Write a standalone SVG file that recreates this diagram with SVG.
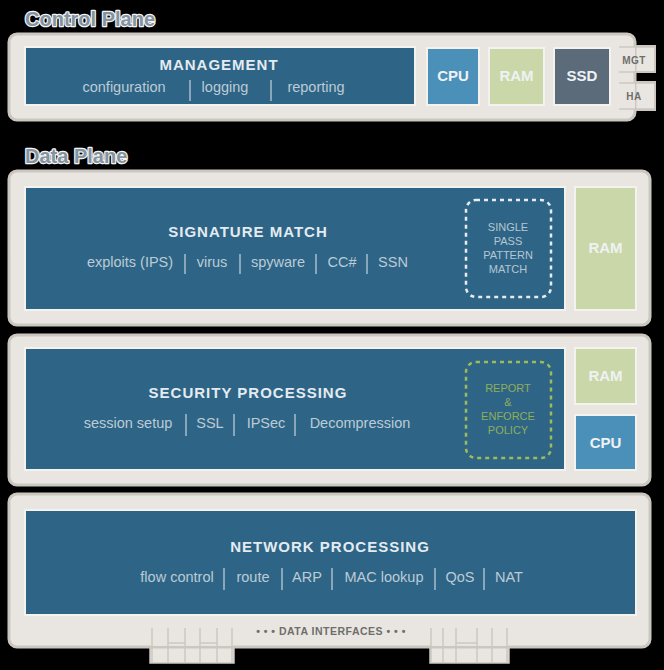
<svg xmlns="http://www.w3.org/2000/svg" width="664" height="670" viewBox="0 0 664 670">
<style>
.panel{fill:#e9e6e1;stroke:#cbc7c0;stroke-width:3}
.box{fill:#2e6586;stroke:#f4f2ee;stroke-width:2}
.title{font-family:"Liberation Sans",Arial,sans-serif;font-weight:bold;font-size:20px;fill:#8393a0;stroke:#f2f4f5;stroke-width:2.5;stroke-linejoin:round;paint-order:stroke}
.head{font-family:"Liberation Sans",Arial,sans-serif;font-weight:bold;font-size:15px;fill:#e4ebf0;letter-spacing:1px;text-anchor:middle}
.sub{font-family:"Liberation Sans",Arial,sans-serif;font-size:14.5px;fill:#bccbd6;text-anchor:middle}
.lbl{font-family:"Liberation Sans",Arial,sans-serif;font-weight:bold;font-size:15px;fill:#eef2f4;text-anchor:middle}
.small{font-family:"Liberation Sans",Arial,sans-serif;font-size:11px;text-anchor:middle}
.tab{font-family:"Liberation Sans",Arial,sans-serif;font-weight:bold;font-size:10px;fill:#6e6e6c;text-anchor:middle;letter-spacing:0.5px}
.div{stroke:#a9bccb;stroke-width:1.5}
</style>
<rect width="664" height="670" fill="#000"/>

<text class="title" x="25" y="26">Control Plane</text>
<text class="title" x="25" y="163">Data Plane</text>

<g id="control-plane">
  <rect x="619" y="46" width="36" height="26" fill="#e9e6e1" stroke="#cbc7c0" stroke-width="2"/>
  <rect x="619" y="82" width="36" height="28" fill="#e9e6e1" stroke="#cbc7c0" stroke-width="2"/>
  <rect class="panel" x="9" y="34" width="626" height="86" rx="8"/>
  <rect x="619" y="47" width="16" height="24" fill="#e9e6e1"/>
  <rect x="619" y="83" width="16" height="26" fill="#e9e6e1"/>
  <line x1="619" y1="47" x2="655" y2="47" stroke="#cbc7c0" stroke-width="1.5"/>
  <line x1="619" y1="72" x2="655" y2="72" stroke="#cbc7c0" stroke-width="1.5"/>
  <line x1="619" y1="83" x2="655" y2="83" stroke="#cbc7c0" stroke-width="1.5"/>
  <line x1="619" y1="109" x2="655" y2="109" stroke="#cbc7c0" stroke-width="1.5"/>
  <text class="tab" x="634" y="64">MGT</text>
  <text class="tab" x="634" y="100">HA</text>
</g>

<g id="management">
  <rect class="box" x="25" y="47" width="390" height="58"/>
  <text class="head" x="219" y="70">MANAGEMENT</text>
  <text class="sub" x="124" y="92">configuration</text>
  <text class="sub" x="225" y="92">logging</text>
  <text class="sub" x="316" y="92">reporting</text>
  <line class="div" x1="190" y1="80" x2="190" y2="101"/>
  <line class="div" x1="271" y1="80" x2="271" y2="101"/>
</g>
<g id="cp-cpu">
  <rect x="427" y="48" width="52" height="57" fill="#4b90b9" stroke="#f4f2ee" stroke-width="2"/>
  <text class="lbl" x="453" y="81">CPU</text>
</g>
<g id="cp-ram">
  <rect x="489" y="48" width="55" height="57" fill="#c9d7a9" stroke="#f4f2ee" stroke-width="2"/>
  <text class="lbl" x="516.5" y="81">RAM</text>
</g>
<g id="cp-ssd">
  <rect x="554" y="48" width="56" height="57" fill="#5b6b79" stroke="#f4f2ee" stroke-width="2"/>
  <text class="lbl" x="582" y="81">SSD</text>
</g>

<g id="signature-panel">
  <rect class="panel" x="9" y="171" width="641" height="154" rx="8"/>
</g>
<g id="signature-match">
  <rect class="box" x="25" y="187" width="540" height="123"/>
  <text class="head" x="248" y="237">SIGNATURE MATCH</text>
  <text class="sub" x="130" y="267">exploits (IPS)</text>
  <text class="sub" x="212" y="267">virus</text>
  <text class="sub" x="278" y="267">spyware</text>
  <text class="sub" x="342" y="267">CC#</text>
  <text class="sub" x="393" y="267">SSN</text>
  <line class="div" x1="185" y1="254" x2="185" y2="274"/>
  <line class="div" x1="240" y1="254" x2="240" y2="274"/>
  <line class="div" x1="316" y1="254" x2="316" y2="274"/>
  <line class="div" x1="367" y1="254" x2="367" y2="274"/>
  <rect x="466" y="200" width="85" height="97" rx="10" fill="none" stroke="#e6ecf0" stroke-width="2.5" stroke-dasharray="4,4"/>
  <text class="small" fill="#b6c6d2" x="508" y="231">SINGLE</text>
  <text class="small" fill="#b6c6d2" x="508" y="245">PASS</text>
  <text class="small" fill="#b6c6d2" x="508" y="259">PATTERN</text>
  <text class="small" fill="#b6c6d2" x="508" y="273">MATCH</text>
</g>
<g id="sig-ram">
  <rect x="575" y="187" width="61" height="123" fill="#c9d7a9" stroke="#f4f2ee" stroke-width="2"/>
  <text class="lbl" x="605.5" y="253">RAM</text>
</g>

<g id="security-panel">
  <rect class="panel" x="9" y="335" width="641" height="150" rx="8"/>
</g>
<g id="security-processing">
  <rect class="box" x="25" y="348" width="540" height="122"/>
  <text class="head" x="248" y="398">SECURITY PROCESSING</text>
  <text class="sub" x="128" y="428">session setup</text>
  <text class="sub" x="210" y="428">SSL</text>
  <text class="sub" x="266" y="428">IPSec</text>
  <text class="sub" x="360" y="428">Decompression</text>
  <line class="div" x1="186" y1="414" x2="186" y2="436"/>
  <line class="div" x1="234" y1="414" x2="234" y2="436"/>
  <line class="div" x1="295" y1="414" x2="295" y2="436"/>
  <rect x="466" y="362" width="85" height="96" rx="10" fill="none" stroke="#9dbb5e" stroke-width="2.5" stroke-dasharray="4,4"/>
  <text class="small" fill="#8fae5a" x="508" y="392">REPORT</text>
  <text class="small" fill="#8fae5a" x="508" y="406">&amp;</text>
  <text class="small" fill="#8fae5a" x="508" y="420">ENFORCE</text>
  <text class="small" fill="#8fae5a" x="508" y="434">POLICY</text>
</g>
<g id="sec-ram">
  <rect x="575" y="348" width="61" height="56" fill="#c9d7a9" stroke="#f4f2ee" stroke-width="2"/>
  <text class="lbl" x="605.5" y="381">RAM</text>
</g>
<g id="sec-cpu">
  <rect x="575" y="415" width="61" height="55" fill="#4b90b9" stroke="#f4f2ee" stroke-width="2"/>
  <text class="lbl" x="605.5" y="448">CPU</text>
</g>

<g id="network-panel">
  <rect x="150" y="625" width="84" height="38" fill="#e9e6e1" stroke="#cbc7c0" stroke-width="1.5"/>
  <rect x="430" y="625" width="79" height="38" fill="#e9e6e1" stroke="#cbc7c0" stroke-width="1.5"/>
  <rect class="panel" x="9" y="494" width="641" height="153" rx="8"/>
  <rect x="151" y="630" width="82" height="16" fill="#e9e6e1"/>
  <rect x="431" y="630" width="77" height="16" fill="#e9e6e1"/>
  <g stroke="#cbc7c0" stroke-width="1.5">
    <line x1="152" y1="628" x2="152" y2="662"/>
    <line x1="168" y1="628" x2="168" y2="662"/>
    <line x1="185" y1="628" x2="185" y2="662"/>
    <line x1="200" y1="628" x2="200" y2="662"/>
    <line x1="217" y1="628" x2="217" y2="662"/>
    <line x1="232" y1="628" x2="232" y2="662"/>
    <line x1="168" y1="643" x2="185" y2="643"/>
    <line x1="200" y1="643" x2="217" y2="643"/>
    <line x1="431" y1="628" x2="431" y2="662"/>
    <line x1="443" y1="628" x2="443" y2="662"/>
    <line x1="456" y1="628" x2="456" y2="662"/>
    <line x1="477" y1="628" x2="477" y2="662"/>
    <line x1="492" y1="628" x2="492" y2="662"/>
    <line x1="507" y1="628" x2="507" y2="662"/>
    <line x1="456" y1="643" x2="477" y2="643"/>
  </g>
  <text class="tab" fill="#6e6e6c" x="331" y="635" style="font-size:10.5px">• • •  DATA INTERFACES  • • •</text>
</g>
<g id="network-processing">
  <rect class="box" x="25" y="510" width="611" height="105"/>
  <text class="head" x="330" y="552">NETWORK PROCESSING</text>
  <text class="sub" x="177" y="582">flow control</text>
  <text class="sub" x="253" y="582">route</text>
  <text class="sub" x="307" y="582">ARP</text>
  <text class="sub" x="384" y="582">MAC lookup</text>
  <text class="sub" x="460" y="582">QoS</text>
  <text class="sub" x="509" y="582">NAT</text>
  <line class="div" x1="224" y1="568" x2="224" y2="590"/>
  <line class="div" x1="282" y1="568" x2="282" y2="590"/>
  <line class="div" x1="332" y1="568" x2="332" y2="590"/>
  <line class="div" x1="435" y1="568" x2="435" y2="590"/>
  <line class="div" x1="484" y1="568" x2="484" y2="590"/>
</g>
<g id="connectors"></g>
</svg>
